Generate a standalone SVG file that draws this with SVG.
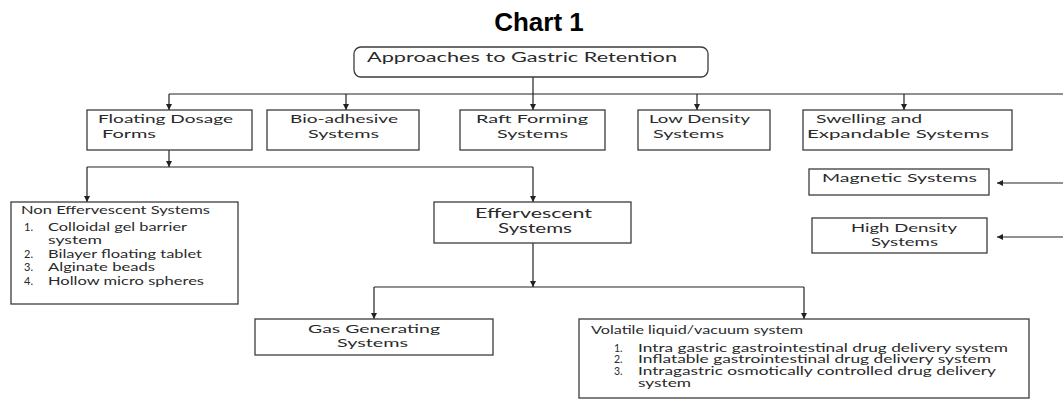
<svg xmlns="http://www.w3.org/2000/svg" width="1063" height="399" viewBox="0 0 1063 399">
<defs>
<marker id="ah" viewBox="0 0 6 6" markerWidth="6" markerHeight="6" refX="6" refY="3" orient="auto" markerUnits="userSpaceOnUse"><path d="M0,0 L6,3 L0,6 z" fill="#222"/></marker>
</defs>
<style>
.box{fill:#fff;stroke:#3c3c3c;stroke-width:1.3}
.t{font-family:Lato,"Liberation Sans",sans-serif;font-size:12px;fill:#2a2a2a}
.s{font-size:11px}
.v{font-size:10.5px}
.c{fill:none;stroke:#222;stroke-width:1.2}
.a{fill:none;stroke:#222;stroke-width:1.2;marker-end:url(#ah)}
.title{font-family:"Liberation Sans",Arial,sans-serif;font-weight:bold;font-size:26px;fill:#000}
</style>
<rect width="1063" height="399" fill="#fff"/>
<text class="title" x="539" y="31" text-anchor="middle">Chart 1</text>

<g id="connectors">
<path class="c" d="M533,77 V94"/>
<path class="c" d="M169,94 H1063"/>
<path class="a" d="M169,94 V110"/>
<path class="a" d="M346,94 V110"/>
<path class="a" d="M533,94 V110"/>
<path class="a" d="M697,94 V110"/>
<path class="a" d="M904,94 V110"/>
<path class="a" d="M169,150 V167"/>
<path class="c" d="M87,167 H533"/>
<path class="a" d="M87,167 V202"/>
<path class="a" d="M533,167 V202"/>
<path class="a" d="M533,243 V287"/>
<path class="c" d="M374,287 H804"/>
<path class="a" d="M374,287 V319"/>
<path class="a" d="M804,287 V319"/>
<path class="a" d="M1063,183 H997"/>
<path class="a" d="M1063,237 H997"/>
</g>

<g id="root">
<rect class="box" x="354" y="47" width="354" height="30" rx="7"/>
<text class="t" x="367" y="62" textLength="310" lengthAdjust="spacingAndGlyphs" style="font-size:13.5px">Approaches to Gastric Retention</text>
</g>

<g id="floating">
<rect class="box" x="87" y="110" width="165" height="40"/>
<text class="t" x="98" y="123" textLength="135" lengthAdjust="spacingAndGlyphs">Floating Dosage</text>
<text class="t" x="102" y="138" textLength="54" lengthAdjust="spacingAndGlyphs">Forms</text>
</g>

<g id="bioadhesive">
<rect class="box" x="267" y="110" width="152" height="40"/>
<text class="t" x="290" y="123" textLength="108" lengthAdjust="spacingAndGlyphs">Bio-adhesive</text>
<text class="t" x="308" y="138" textLength="71" lengthAdjust="spacingAndGlyphs">Systems</text>
</g>

<g id="raft">
<rect class="box" x="460" y="110" width="145" height="40"/>
<text class="t" x="476" y="123" textLength="112" lengthAdjust="spacingAndGlyphs">Raft Forming</text>
<text class="t" x="497" y="138" textLength="71" lengthAdjust="spacingAndGlyphs">Systems</text>
</g>

<g id="lowdensity">
<rect class="box" x="638" y="110" width="132" height="40"/>
<text class="t" x="649" y="123" textLength="101" lengthAdjust="spacingAndGlyphs">Low Density</text>
<text class="t" x="653" y="138" textLength="71" lengthAdjust="spacingAndGlyphs">Systems</text>
</g>

<g id="swelling">
<rect class="box" x="803" y="110" width="209" height="40"/>
<text class="t" x="816" y="123" textLength="106" lengthAdjust="spacingAndGlyphs">Swelling and</text>
<text class="t" x="807" y="138" textLength="182" lengthAdjust="spacingAndGlyphs">Expandable Systems</text>
</g>

<g id="magnetic">
<rect class="box" x="809" y="169" width="180" height="26"/>
<text class="t" x="822" y="182" textLength="155" lengthAdjust="spacingAndGlyphs">Magnetic Systems</text>
</g>

<g id="highdensity">
<rect class="box" x="812" y="218" width="175" height="35"/>
<text class="t" x="851" y="232" textLength="106" lengthAdjust="spacingAndGlyphs">High Density</text>
<text class="t" x="871" y="246" textLength="67" lengthAdjust="spacingAndGlyphs">Systems</text>
</g>

<g id="noneffervescent">
<rect class="box" x="11" y="202" width="227" height="102"/>
<text class="t s" x="21" y="214" textLength="189" lengthAdjust="spacingAndGlyphs">Non Effervescent Systems</text>
<text class="t s" x="24" y="231">1.</text>
<text class="t s" x="48" y="231" textLength="139" lengthAdjust="spacingAndGlyphs">Colloidal gel barrier</text>
<text class="t s" x="48" y="244" textLength="54" lengthAdjust="spacingAndGlyphs">system</text>
<text class="t s" x="24" y="258">2.</text>
<text class="t s" x="48" y="258" textLength="154" lengthAdjust="spacingAndGlyphs">Bilayer floating tablet</text>
<text class="t s" x="24" y="271">3.</text>
<text class="t s" x="48" y="271" textLength="107" lengthAdjust="spacingAndGlyphs">Alginate beads</text>
<text class="t s" x="24" y="285">4.</text>
<text class="t s" x="48" y="285" textLength="156" lengthAdjust="spacingAndGlyphs">Hollow micro spheres</text>
</g>

<g id="effervescent">
<rect class="box" x="434" y="202" width="197" height="41"/>
<text class="t" x="475" y="218" textLength="117" lengthAdjust="spacingAndGlyphs" style="font-size:13px">Effervescent</text>
<text class="t" x="498" y="233" textLength="74" lengthAdjust="spacingAndGlyphs" style="font-size:13px">Systems</text>
</g>

<g id="gasgenerating">
<rect class="box" x="255" y="319" width="238" height="36"/>
<text class="t" x="308" y="333" textLength="132" lengthAdjust="spacingAndGlyphs">Gas Generating</text>
<text class="t" x="337" y="347" textLength="71" lengthAdjust="spacingAndGlyphs">Systems</text>
</g>

<g id="volatile">
<rect class="box" x="579" y="319" width="450" height="79"/>
<text class="t v" x="591" y="334" textLength="212" lengthAdjust="spacingAndGlyphs">Volatile liquid/vacuum  system</text>
<text class="t v" x="614" y="352">1.</text>
<text class="t v" x="638" y="352" textLength="370" lengthAdjust="spacingAndGlyphs">Intra gastric gastrointestinal drug delivery system</text>
<text class="t v" x="614" y="363">2.</text>
<text class="t v" x="638" y="363" textLength="353" lengthAdjust="spacingAndGlyphs">Inflatable gastrointestinal drug delivery system</text>
<text class="t v" x="614" y="375">3.</text>
<text class="t v" x="638" y="375" textLength="358" lengthAdjust="spacingAndGlyphs">Intragastric osmotically controlled drug delivery</text>
<text class="t v" x="638" y="387" textLength="53" lengthAdjust="spacingAndGlyphs">system</text>
</g>
</svg>
